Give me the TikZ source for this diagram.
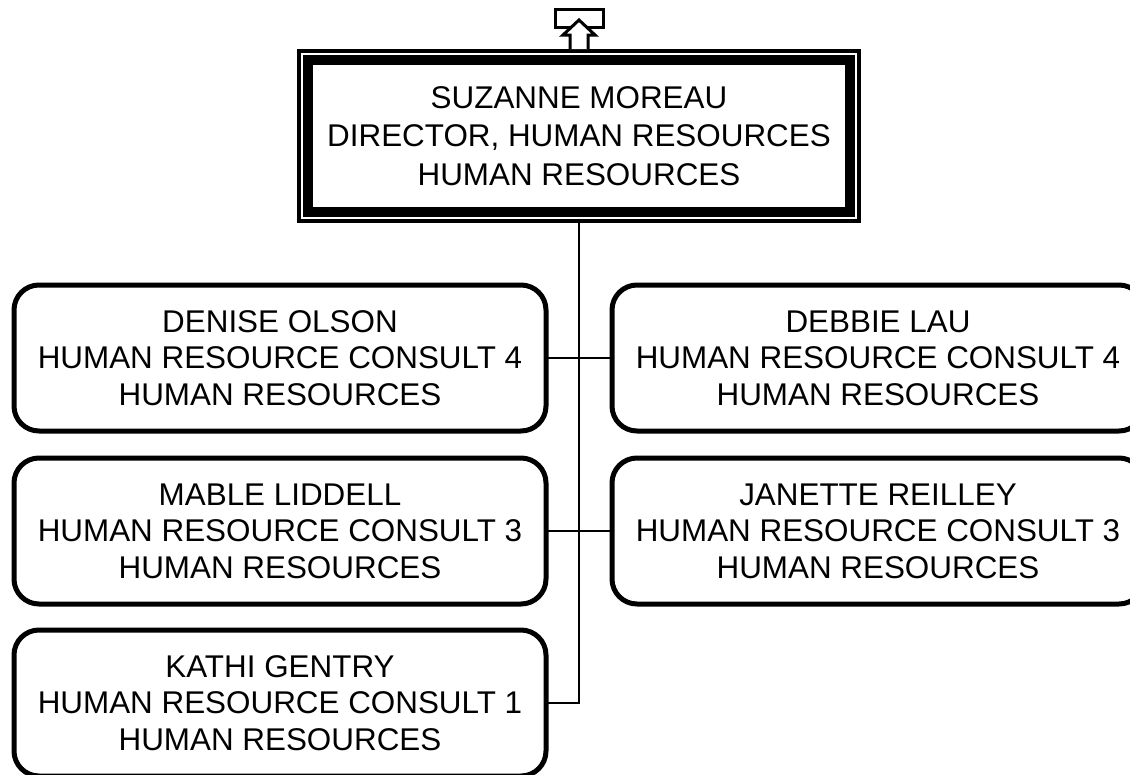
\documentclass[tikz,border=0pt]{standalone}
\usepackage{fontspec}
\setmainfont{Liberation Sans}
\usetikzlibrary{calc}
\begin{document}
\begin{tikzpicture}[x=1pt,y=-1pt,
  txt/.style={align=center,font=\fontsize{31.4}{36.5}\selectfont,inner sep=0pt,outer sep=0pt},
  person/.style={txt,draw=black,line width=5pt,rounded corners=25pt,minimum height=146pt,minimum width=532pt},
  headbox/.style={draw=black,line width=10pt,inner sep=0pt,outer sep=0pt,align=center,
    font=\fontsize{31.4}{38.5}\selectfont,minimum width=542pt,minimum height=152pt},
  link/.style={draw=black,line width=2pt},
  icon/.style={draw=black,line width=3pt,line join=miter}]
\clip (0,0) rectangle (1130,774);
\fill[white] (0,0) rectangle (1130,774);
% head
\node[headbox] (top) at (579,136) {SUZANNE MOREAU\\DIRECTOR, HUMAN RESOURCES\\HUMAN RESOURCES};
\draw[line width=4pt] ($(top.north west)+(-9,-9)$) rectangle ($(top.south east)+(9,9)$);
% up icon
\coordinate (iconA) at (555,9);
\coordinate (iconB) at (603,27);
\draw[icon] (iconA) rectangle (iconB);
\filldraw[icon,fill=white] (570,49) -- (570,35) -- (563,35) -- (579,20) -- (595,35) -- (588,35) -- (588,49);
% children
\node[person] (denise) at (280,358) {DENISE OLSON\\HUMAN RESOURCE CONSULT 4\\HUMAN RESOURCES};
\node[person] (debbie) at (878,358) {DEBBIE LAU\\HUMAN RESOURCE CONSULT 4\\HUMAN RESOURCES};
\node[person] (mable) at (280,531) {MABLE LIDDELL\\HUMAN RESOURCE CONSULT 3\\HUMAN RESOURCES};
\node[person] (janette) at (878,531) {JANETTE REILLEY\\HUMAN RESOURCE CONSULT 3\\HUMAN RESOURCES};
\node[person] (kathi) at (280,703) {KATHI GENTRY\\HUMAN RESOURCE CONSULT 1\\HUMAN RESOURCES};
% connectors
\draw[link] ($(top.south)+(0,9)$) -- (top.south |- kathi.east) -- (kathi.east);
\draw[link] (denise.east) -- (debbie.west);
\draw[link] (mable.east) -- (janette.west);
\end{tikzpicture}
\end{document}
